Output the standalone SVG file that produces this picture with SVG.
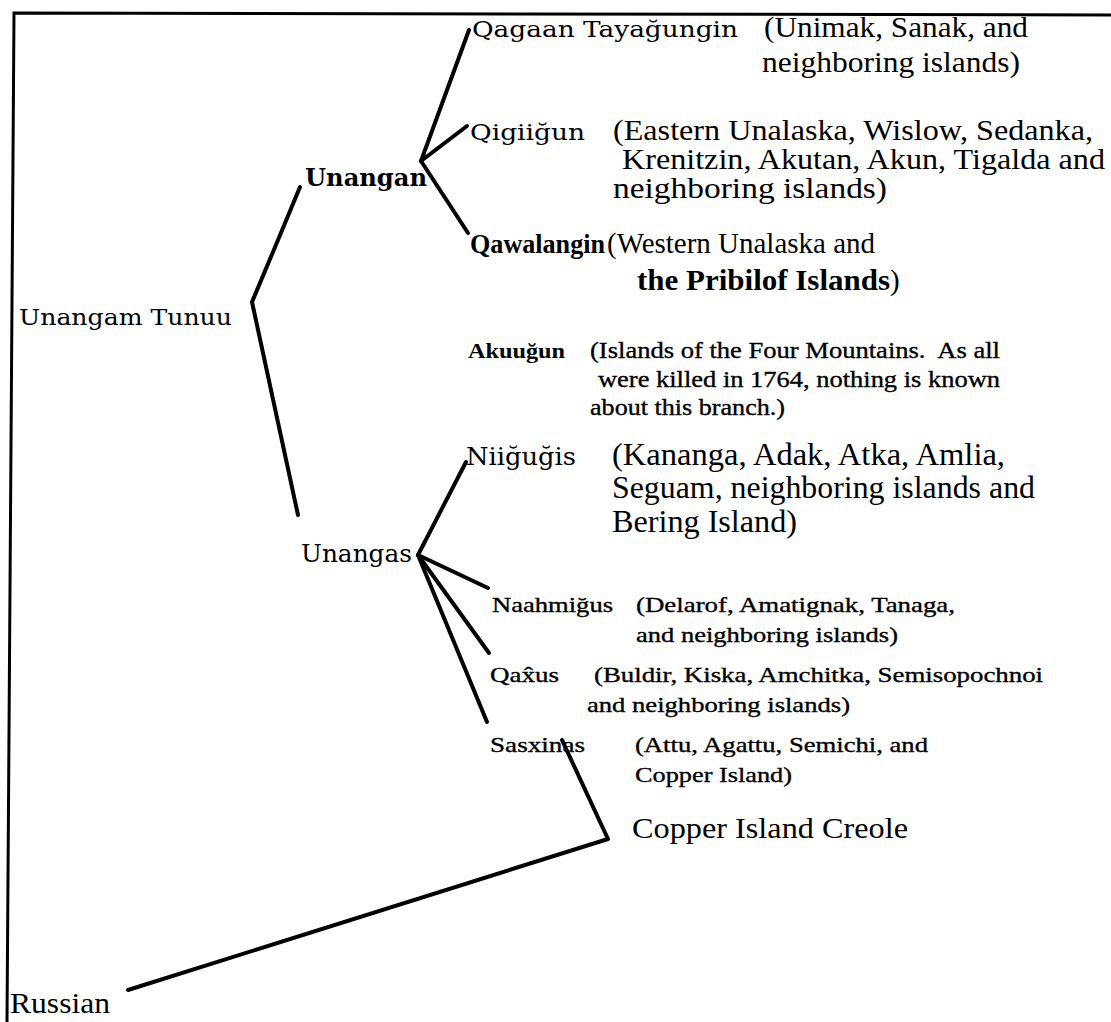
<svg xmlns="http://www.w3.org/2000/svg" width="1111" height="1022" viewBox="0 0 1111 1022">
<style>
.w{font-family:"DejaVu Serif","Liberation Serif",serif;fill:#000}
.t{font-family:"Liberation Serif","Times New Roman",serif;fill:#000}
.h{stroke:#000;stroke-width:0.35}
.b{font-weight:bold}
.ln{fill:none;stroke:#000;stroke-width:4;stroke-linecap:round;stroke-linejoin:round}
</style>
<rect width="1111" height="1022" fill="#fff"/>
<path d="M7,1022 L14,13 L1111,15" fill="none" stroke="#000" stroke-width="3"/>
<g id="connectors">
<path class="ln" d="M300,187 L278,240 L252,302 L298,515"/>
<path class="ln" d="M469,30 L421,161 L467,126"/>
<path class="ln" d="M421,161 L468,233"/>
<path class="ln" d="M466,462 L418,555 L488,588"/>
<path class="ln" d="M418,555 L489,653"/>
<path class="ln" d="M418,555 L487,722"/>
<path class="ln" d="M562,740 L608,839 L128,990"/>
</g>
<g id="unangam-tunuu"><text class="w" x="19" y="325" font-size="23" textLength="213" lengthAdjust="spacingAndGlyphs">Unangam Tunuu</text></g>
<g id="unangan"><text class="w b" x="305" y="186" font-size="25" textLength="122" lengthAdjust="spacingAndGlyphs">Unangan</text></g>
<g id="unangas"><text class="w" x="301" y="562" font-size="24" textLength="111" lengthAdjust="spacingAndGlyphs">Unangas</text></g>
<g id="qagaan">
<text class="w" x="472" y="37" font-size="23" textLength="266" lengthAdjust="spacingAndGlyphs">Qagaan Tayağungin</text>
<text class="t" x="764" y="37" font-size="29" textLength="264" lengthAdjust="spacingAndGlyphs">(Unimak, Sanak, and</text>
<text class="t" x="762" y="72" font-size="29" textLength="258" lengthAdjust="spacingAndGlyphs">neighboring islands)</text>
</g>
<g id="qigiigun">
<text class="w" x="470" y="140" font-size="23" textLength="115" lengthAdjust="spacingAndGlyphs">Qigiiğun</text>
<text class="t" x="613" y="140" font-size="29" textLength="480" lengthAdjust="spacingAndGlyphs">(Eastern Unalaska, Wislow, Sedanka,</text>
<text class="t" x="622" y="169" font-size="29" textLength="483" lengthAdjust="spacingAndGlyphs">Krenitzin, Akutan, Akun, Tigalda and</text>
<text class="t" x="613" y="198" font-size="29" textLength="274" lengthAdjust="spacingAndGlyphs">neighboring islands)</text>
</g>
<g id="qawalangin">
<text class="t b" x="470" y="253" font-size="27" textLength="135" lengthAdjust="spacingAndGlyphs">Qawalangin</text>
<text class="t" x="607" y="253" font-size="29" textLength="268" lengthAdjust="spacingAndGlyphs">(Western Unalaska and</text>
<text class="t b" x="637" y="290" font-size="29" textLength="253" lengthAdjust="spacingAndGlyphs">the Pribilof Islands</text>
<text class="t" x="890" y="290" font-size="29">)</text>
</g>
<g id="akuugun">
<text class="t b" x="468" y="358" font-size="22" textLength="97" lengthAdjust="spacingAndGlyphs">Akuuğun</text>
<text class="t h" x="590" y="358" font-size="23" textLength="410" lengthAdjust="spacingAndGlyphs" xml:space="preserve">(Islands of the Four Mountains.  As all</text>
<text class="t h" x="598" y="387" font-size="23" textLength="402" lengthAdjust="spacingAndGlyphs">were killed in 1764, nothing is known</text>
<text class="t h" x="590" y="415" font-size="23" textLength="195" lengthAdjust="spacingAndGlyphs">about this branch.)</text>
</g>
<g id="niigugis">
<text class="w" x="466" y="465" font-size="24" textLength="110" lengthAdjust="spacingAndGlyphs">Niiğuğis</text>
<text class="t" x="612" y="465" font-size="31" textLength="393" lengthAdjust="spacingAndGlyphs">(Kananga, Adak, Atka, Amlia,</text>
<text class="t" x="612" y="498" font-size="31" textLength="423" lengthAdjust="spacingAndGlyphs">Seguam, neighboring islands and</text>
<text class="t" x="612" y="532" font-size="31" textLength="185" lengthAdjust="spacingAndGlyphs">Bering Island)</text>
</g>
<g id="naahmigus">
<text class="t h" x="492" y="612" font-size="22" textLength="121" lengthAdjust="spacingAndGlyphs">Naahmiğus</text>
<text class="t h" x="636" y="612" font-size="22" textLength="319" lengthAdjust="spacingAndGlyphs">(Delarof, Amatignak, Tanaga,</text>
<text class="t h" x="636" y="642" font-size="22" textLength="262" lengthAdjust="spacingAndGlyphs">and neighboring islands)</text>
</g>
<g id="qaxus">
<text class="t h" x="490" y="682" font-size="22" textLength="69" lengthAdjust="spacingAndGlyphs">Qax̂us</text>
<text class="t h" x="594" y="682" font-size="22" textLength="449" lengthAdjust="spacingAndGlyphs">(Buldir, Kiska, Amchitka, Semisopochnoi</text>
<text class="t h" x="587" y="712" font-size="22" textLength="263" lengthAdjust="spacingAndGlyphs">and neighboring islands)</text>
</g>
<g id="sasxinas">
<text class="t h" x="490" y="752" font-size="22" textLength="95" lengthAdjust="spacingAndGlyphs">Sasxinas</text>
<text class="t h" x="635" y="752" font-size="22" textLength="293" lengthAdjust="spacingAndGlyphs">(Attu, Agattu, Semichi, and</text>
<text class="t h" x="635" y="782" font-size="22" textLength="157" lengthAdjust="spacingAndGlyphs">Copper Island)</text>
</g>
<g id="copper-island-creole"><text class="t" x="632" y="838" font-size="29" textLength="276" lengthAdjust="spacingAndGlyphs">Copper Island Creole</text></g>
<g id="russian"><text class="t" x="10" y="1013" font-size="29" textLength="100" lengthAdjust="spacingAndGlyphs">Russian</text></g>
</svg>
